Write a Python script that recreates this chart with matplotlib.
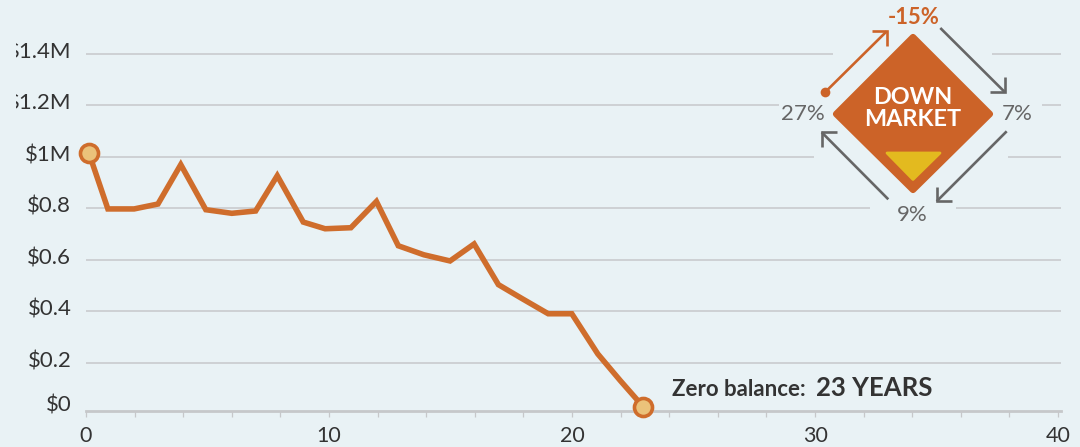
import matplotlib
matplotlib.use('Agg')
import matplotlib.pyplot as plt
from matplotlib.patches import Polygon, Rectangle
from matplotlib.transforms import Bbox, ScaledTranslation

plt.rcParams['font.family'] = ['Lato', 'DejaVu Sans']

# values
years = [0.12, 0.9, 1.98, 2.96, 3.9, 4.93, 6.0, 6.98, 7.87, 8.94, 9.84, 10.9,
         11.95, 12.85, 13.9, 14.98, 15.97, 16.97, 17.94, 19.02, 19.99, 21.06,
         21.98, 22.93]
balance = [1.014, 0.797, 0.797, 0.816, 0.969, 0.794, 0.780, 0.789, 0.926, 0.746,
           0.720, 0.724, 0.826, 0.654, 0.619, 0.595, 0.661, 0.503, 0.449, 0.390,
           0.390, 0.234, 0.131, 0.029]
y_ticks = [0, 0.2, 0.4, 0.6, 0.8, 1.0, 1.2, 1.4]
y_labels = ['$0', '$0.2', '$0.4', '$0.6', '$0.8', '$1M', '$1.2M', '$1.4M']
x_major = [0, 10, 20, 30, 40]
x_minor = [2, 4, 6, 8, 12, 14, 16, 18, 22, 24, 26, 28, 32, 34, 36, 38]

# colours
BG = '#e9f2f5'
GRID = '#c6c8ca'
LINE = '#cf6d2c'
FILL = '#ebc27a'
BADGE = '#cc6328'
YELLOW = '#e3ba1f'
GRAY = '#666666'
DARK = '#333333'

W, H = 1080, 447
fig = plt.figure(figsize=(W / 100, H / 100), dpi=100, facecolor=BG)

# axes run from x=86..1061 px, y=30.7..414.2 px
ax = fig.add_axes([86 / W, 1 - 414.2 / H, (1061 - 86) / W, 383.5 / H], facecolor=BG)
ax.set_xlim(0, 40.12)
ax.set_ylim(0, 1.489)

for s in ['top', 'left', 'right']:
    ax.spines[s].set_visible(False)
ax.spines['bottom'].set_position(('data', 0.0124))
ax.spines['bottom'].set_color(GRID)
ax.spines['bottom'].set_linewidth(2.0)
ax.spines['bottom'].set_bounds(0, 40.12)

ax.set_xticks(x_major)
ax.set_xticks(x_minor, minor=True)
ax.tick_params(axis='x', which='both', length=4, width=0.9, color=GRID)
ax.tick_params(axis='x', which='major', labelsize=15.5, labelcolor=DARK, pad=7)

ax.set_yticks(y_ticks)
ax.set_yticklabels(y_labels)
ax.tick_params(axis='y', length=0, labelsize=16, labelcolor=DARK, pad=10.5)
ax.grid(axis='y', color=GRID, lw=1.1)
ax.set_axisbelow(True)
ax.yaxis.get_gridlines()[0].set_visible(False)

# labels sit a bit above their grid line, the left edge is cut in the original
clip = Bbox([[16, 0], [W, H]])
for tick, lab in zip(ax.yaxis.get_major_ticks(), y_labels):
    up = 10.7 if lab == '$0' else 3.2
    tick.label1.set_transform(tick.label1.get_transform() + ScaledTranslation(0, up / 100, fig.dpi_scale_trans))
    tick.label1.set_clip_box(clip)
    tick.label1.set_clip_on(True)

ax.plot(years, balance, color=LINE, lw=4.0, solid_joinstyle='miter', clip_on=False, zorder=3)
ax.plot([years[0], years[-1]], [balance[0], balance[-1]], 'o', ms=13, mfc=FILL, mec=LINE,
        mew=2.6, clip_on=False, zorder=4)

# badge drawn on a pixel overlay
ov = fig.add_axes([0, 0, 1, 1])
ov.set_xlim(0, W)
ov.set_ylim(H, 0)
ov.axis('off')

# grid lines stop around the badge
for x0, x1, yy in [(833, 992, 53), (779, 1042, 104.7), (814, 1008, 156), (870, 956, 207.5)]:
    ov.add_patch(Rectangle((x0, yy - 3), x1 - x0, 6, fc=BG, ec='none'))

ov.add_patch(Polygon([(913, 37), (990, 114), (913, 190), (836, 114)], closed=True, fc=BADGE,
                     ec=BADGE, lw=4.5, joinstyle='round'))
ov.add_patch(Polygon([(887, 153), (940, 153), (913, 179.5)], closed=True, fc=YELLOW,
                     ec=YELLOW, lw=2, joinstyle='round'))
ov.text(913, 97, 'DOWN', color='white', fontsize=16.8, fontweight='bold', ha='center', va='center')
ov.text(913, 120, 'MARKET', color='white', fontsize=16.8, fontweight='bold', ha='center', va='center')


def arrow(pts, color):
    ov.plot([p[0] for p in pts], [p[1] for p in pts], color=color, lw=1.9,
            solid_capstyle='butt', solid_joinstyle='miter')


arrow([(825.3, 92), (886.7, 31.3)], BADGE)
arrow([(871.7, 31.3), (886.7, 31.3), (886.7, 45.7)], BADGE)
ov.plot([825.3], [92], 'o', ms=7, color=BADGE, mew=0)
arrow([(940.3, 28), (1005, 92.3)], GRAY)
arrow([(990, 92.3), (1005, 92.3), (1005, 77.3)], GRAY)
arrow([(1006.7, 131.3), (936.7, 201.3)], GRAY)
arrow([(936.7, 186.7), (936.7, 201.3), (951.7, 201.3)], GRAY)
arrow([(888.3, 199.3), (821.7, 132.3)], GRAY)
arrow([(821.7, 147.3), (821.7, 132.3), (836.7, 132.3)], GRAY)

ov.text(913.5, 18, '-15%', color=BADGE, fontsize=15.8, fontweight='bold', ha='center', va='center')
ov.text(803, 113.5, '27%', color=GRAY, fontsize=16, ha='center', va='center')
ov.text(1017, 113.5, '7%', color=GRAY, fontsize=16, ha='center', va='center')
ov.text(912, 215, '9%', color=GRAY, fontsize=16, ha='center', va='center')

ov.text(672, 389.5, 'Zero balance:', color=DARK, fontsize=16, fontweight='bold', ha='left', va='center')
ov.text(816, 388, '23 YEARS', color=DARK, fontsize=18.5, fontweight='bold', ha='left', va='center')

fig.savefig('out.png', dpi=100, facecolor=BG)
